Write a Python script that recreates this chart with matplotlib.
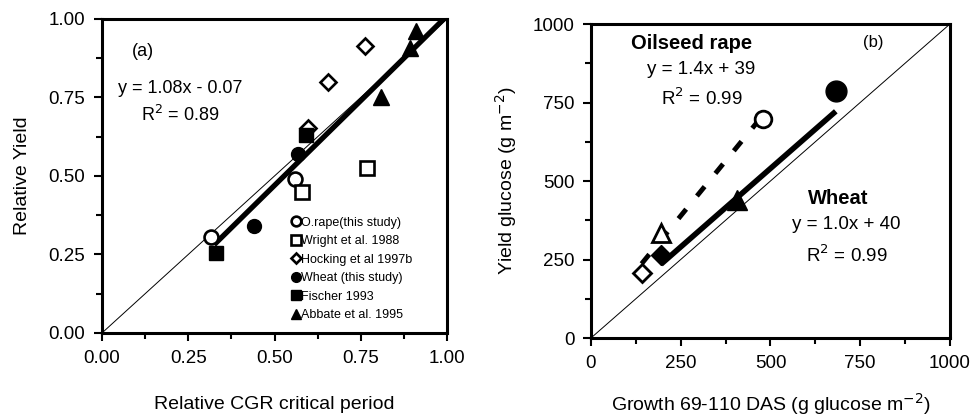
import matplotlib
matplotlib.use("Agg")
import matplotlib.pyplot as plt
from matplotlib.ticker import MultipleLocator, FormatStrFormatter

plt.rcParams['font.family'] = ['Liberation Sans', 'DejaVu Sans']

# ---------------- Panel (a) data ----------------
orape_x = [0.316, 0.560]
orape_y = [0.305, 0.491]
wright_x = [0.580, 0.768]
wright_y = [0.449, 0.527]
hocking_x = [0.596, 0.655, 0.763]
hocking_y = [0.654, 0.799, 0.915]
wheat_x = [0.440, 0.568]
wheat_y = [0.341, 0.571]
fischer_x = [0.331, 0.592]
fischer_y = [0.255, 0.629]
abbate_x = [0.810, 0.892, 0.911]
abbate_y = [0.753, 0.907, 0.963]
legend_labels = ["O.rape(this study)", "Wright et al. 1988", "Hocking et al 1997b",
                 "Wheat (this study)", "Fischer 1993", "Abbate et al. 1995"]
fit_a_slope, fit_a_int = 1.08, -0.07
fit_a_x = [0.325, 0.99]
ticks_a = [0.0, 0.25, 0.5, 0.75, 1.0]

# ---------------- Panel (b) data ----------------
b_orape_x = [141, 195, 478]
b_orape_y = [207, 334, 697]
b_wheat_x = [195, 406, 682]
b_wheat_y = [265, 440, 786]
b_markers = ['D', '^', 'o']
fit_or_slope, fit_or_int = 1.4, 39
fit_or_x = [141, 478]
fit_wh_slope, fit_wh_int = 1.0, 40
fit_wh_x = [195, 682]
ticks_b = [0, 250, 500, 750, 1000]

fig = plt.figure(figsize=(9.76, 4.19), dpi=100)
axa = fig.add_axes([0.1045, 0.2053, 0.3535, 0.7494])
axb = fig.add_axes([0.6055, 0.1933, 0.3678, 0.7494])

TFS = 13.5   # tick labels
LFS = 14     # axis labels
AFS = 13     # annotations

def style(ax, lo, hi, major, fmt):
    ax.set_xlim(lo, hi)
    ax.set_ylim(lo, hi)
    ax.set_xticks(major)
    ax.set_yticks(major)
    step = major[1] - major[0]
    ax.xaxis.set_minor_locator(MultipleLocator(step / 2))
    ax.yaxis.set_minor_locator(MultipleLocator(step / 2))
    ax.xaxis.set_major_formatter(FormatStrFormatter(fmt))
    ax.yaxis.set_major_formatter(FormatStrFormatter(fmt))
    ax.tick_params(which='major', direction='out', length=6, width=1.5,
                   labelsize=TFS, top=False, right=False, pad=6)
    ax.tick_params(which='minor', direction='out', length=4, width=1.5,
                   top=False, right=False)
    for s in ax.spines.values():
        s.set_linewidth(2.2)

# ---------- Panel (a) ----------
style(axa, 0, 1, ticks_a, '%.2f')
axa.plot([0, 1], [0, 1], color='black', lw=0.7, zorder=1)
fy = [fit_a_slope * x + fit_a_int for x in fit_a_x]
axa.plot(fit_a_x, fy, color='black', lw=3.8, zorder=2, solid_capstyle='butt')

ms = 10
mew = 1.9
h1, = axa.plot(orape_x, orape_y, 'o', ms=ms, mfc='white', mec='black', mew=mew, zorder=3)
h2, = axa.plot(wright_x, wright_y, 's', ms=ms, mfc='white', mec='black', mew=mew, zorder=3)
h3, = axa.plot(hocking_x, hocking_y, 'D', ms=ms * 0.8, mfc='white', mec='black', mew=mew, zorder=3)
h4, = axa.plot(wheat_x, wheat_y, 'o', ms=ms, mfc='black', mec='black', zorder=3)
h5, = axa.plot(fischer_x, fischer_y, 's', ms=ms, mfc='black', mec='black', zorder=3)
h6, = axa.plot(abbate_x, abbate_y, '^', ms=ms + 1, mfc='black', mec='black', zorder=3)

leg = axa.legend([h1, h2, h3, h4, h5, h6], legend_labels, loc='lower left',
                 bbox_to_anchor=(0.525, 0.01), frameon=False, fontsize=9,
                 markerscale=0.7, handlelength=0.6, handletextpad=0.15,
                 labelspacing=0.52, borderpad=0.2)

axa.text(0.12, 0.895, "(a)", fontsize=AFS, ha='center', va='center')
axa.text(0.227, 0.78, "y = 1.08x - 0.07", fontsize=AFS, ha='center', va='center')
axa.text(0.227, 0.695, "R$^2$ = 0.89", fontsize=AFS, ha='center', va='center')
axa.set_xlabel("Relative CGR critical period", fontsize=LFS, labelpad=21)
axa.set_ylabel("Relative Yield", fontsize=LFS, labelpad=13)

# ---------- Panel (b) ----------
style(axb, 0, 1000, ticks_b, '%d')
axb.plot([0, 1000], [0, 1000], color='black', lw=0.7, zorder=1)
oy = [fit_or_slope * x + fit_or_int for x in fit_or_x]
axb.plot(fit_or_x, oy, color='black', lw=3.5, ls=(0, (2.5, 3.5)), zorder=2)
wy = [fit_wh_slope * x + fit_wh_int for x in fit_wh_x]
axb.plot(fit_wh_x, wy, color='black', lw=4.0, zorder=2, solid_capstyle='butt')

open_sizes = {'D': 9.5, '^': 13, 'o': 12}
fill_sizes = {'D': 10.5, '^': 14, 'o': 15}
for x, y, m in zip(b_orape_x, b_orape_y, b_markers):
    axb.plot([x], [y], m, ms=open_sizes[m], mfc='white', mec='black', mew=2, zorder=3)
for x, y, m in zip(b_wheat_x, b_wheat_y, b_markers):
    axb.plot([x], [y], m, ms=fill_sizes[m], mfc='black', mec='black', zorder=3)

axb.text(280, 939, "Oilseed rape", fontsize=14.5, fontweight='bold', ha='center', va='center')
axb.text(308, 855, "y = 1.4x + 39", fontsize=13.5, ha='center', va='center')
axb.text(310, 764, "R$^2$ = 0.99", fontsize=13.5, ha='center', va='center')
axb.text(786, 940, "(b)", fontsize=12, ha='center', va='center')
axb.text(689, 443, "Wheat", fontsize=14.5, fontweight='bold', ha='center', va='center')
axb.text(712, 361, "y = 1.0x + 40", fontsize=13.5, ha='center', va='center')
axb.text(712, 265, "R$^2$ = 0.99", fontsize=13.5, ha='center', va='center')
axb.set_xlabel("Growth 69-110 DAS (g glucose m$^{-2}$)", fontsize=LFS, labelpad=14)
axb.set_ylabel("Yield glucose (g m$^{-2}$)", fontsize=LFS, labelpad=10)

fig.savefig("out.png", dpi=100)
